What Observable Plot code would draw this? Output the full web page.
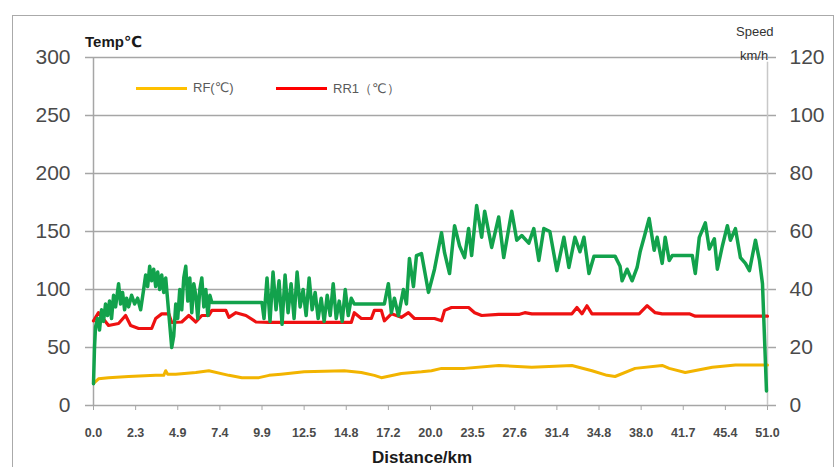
<!DOCTYPE html>
<html>
<head>
<meta charset="utf-8">
<script src="https://cdn.jsdelivr.net/npm/d3@7"></script>
<script src="https://cdn.jsdelivr.net/npm/@observablehq/plot@0.6"></script>
<style>
  html, body { margin: 0; padding: 0; background: #fff; }
  #wrap { position: relative; width: 837px; height: 467px; overflow: hidden; font-family: "Liberation Sans", "DejaVu Sans", sans-serif; }
  #frame { position: absolute; left: 12px; top: 15px; width: 822px; height: 470px; border: 1px solid #aaa; box-sizing: border-box; }
  #chart { position: absolute; left: 0; top: 0; }
  .lbl { position: absolute; white-space: nowrap; color: #1a1a1a; }
  .leg { position: absolute; white-space: nowrap; font-size: 13px; color: #595959; }
  .sw { position: absolute; height: 2.5px; }
</style>
</head>
<body>
<div id="wrap">
  <div id="frame"></div>
  <div id="chart"></div>
  <div class="lbl" style="left:85px; top:33px; font-size:15px; font-weight:bold;">Temp℃</div>
  <div class="lbl" style="left:736px; top:24px; font-size:13px; color:#333;">Speed</div>
  <div class="lbl" style="left:740px; top:48px; font-size:13px; color:#333;">km/h</div>
  <div class="lbl" style="left:372px; top:448px; font-size:17px; font-weight:bold;">Distance/km</div>
  <div class="sw" style="left:136px; top:87px; width:51px; background:#ffc000;"></div>
  <div class="leg" style="left:193px; top:80px;">RF(℃)</div>
  <div class="sw" style="left:276px; top:87px; width:51px; background:#ff0000;"></div>
  <div class="leg" style="left:333px; top:80px;">RR1（℃）</div>
</div>
<script>
// Category axis labels (Distance/km), one label every 42 samples
const distanceLabels = ["0.0","2.3","4.9","7.4","9.9","12.5","14.8","17.2","20.0","23.5","27.6","31.4","34.8","38.0","41.7","45.4","51.0"];
const samplesPerLabel = 42;
const tempTicks = [0, 50, 100, 150, 200, 250, 300];
const tempMax = 300;
const speedMax = 120;

// [sample index, value]
const rfTemp = [[0,19],[5,23],[15,24],[35,25],[62,26],[70,26],[72,30],[74,27],[82,27],[102,28.5],[115,30],[135,26],[148,24],[165,24],[175,26],[187,27],[210,29],[250,30],[267,28.5],[280,26],[287,24],[307,27.6],[327,29],[337,30],[347,32],[370,32],[404,34.5],[437,33],[477,34.5],[497,30],[512,26],[520,25],[540,32],[567,34.5],[574,32],[590,28.5],[617,33],[640,35],[672,35]];

const rr1Temp = [[0,73],[5,80],[15,69],[25,70.7],[32,77.6],[37,69],[45,66.4],[58,66.4],[62,75],[68,79],[75,79],[78,71.6],[88,72],[95,77.6],[102,72],[108,77.6],[115,77.6],[118,82],[132,82],[135,76],[142,80],[152,77.6],[162,72],[175,71.6],[257,71.6],[260,80],[267,75],[277,75],[280,82],[287,82],[290,73],[297,79],[307,76],[314,80],[320,75],[340,75],[347,73],[350,82],[357,84.5],[374,84.5],[380,80],[387,77.6],[404,78.5],[424,78.5],[430,80],[437,79],[477,79],[482,84.5],[487,79],[492,86],[497,79],[544,79],[552,86],[560,80],[567,79],[594,79],[600,77],[672,77]];

const speed = [[0,7.5],[1,20],[2,27],[4,30],[6,26],[8,33],[10,29],[12,35],[14,31],[16,36],[18,30],[20,38],[22,34],[25,42],[27,35],[29,39],[31,33],[33,37],[35,34],[38,38],[41,35],[44,37],[47,33],[50,40],[52,45],[54,41],[56,48],[58,43],[60,47],[62,41],[64,46],[66,40],[68,45],[70,39],[72,44],[74,36],[76,28],[78,20],[80,24],[82,35],[84,30],[86,40],[88,33],[90,44],[92,48],[94,36],[96,44],[98,32],[100,42],[102,38],[104,30],[106,40],[108,44],[110,34],[112,40],[114,31],[116,38],[118,35.5],[168,35.5],
[170,30],[173,44],[176,29],[179,46],[182,33],[185,43],[188,28],[191,45],[194,32],[197,42],[200,30],[203,46],[206,34],[209,40],[212,31],[215,44],[218,33],[221,39],[224,30],[227,37],[230,29],[233,38],[236,31],[239,42],[242,30],[245,36],[248,29],[251,40],[254,31],[257,37],[260,35],[290,35],
[294,42],[297,32],[300,37],[304,31],[309,40],[312,35],[315,50.7],[319,41],[322,51.7],[327,52.4],[334,39],[340,47],[347,59.6],[350,52.7],[355,45.5],[360,62],[365,55],[370,51],[374,61],[377,51.7],[382,69],
[387,58],[390,67],[397,54.5],[404,65],[409,51],[417,67],[422,57],[427,58.6],[434,56],[439,61],[444,50],[449,61],[455,60],[462,46.5],[469,58],[474,47.6],[480,58],[485,53],[489,58],[494,45.5],[499,51.5],[520,51.5],
[525,48],[527,43],[532,47],[537,43],[542,47.6],[545,53],[549,58],[554,64.5],[559,53.5],[562,58],[567,49],[570,58],[574,50],[577,51.7],[597,51.7],[600,45.5],[604,58],[610,63],[614,54],[619,57.5],[622,47],[627,55],[632,62],[635,57],[640,61],[645,51],[650,49],[654,46.5],[660,57],[664,50],[667,42],[671,5]];

const k = tempMax / speedMax;
const labelPos = distanceLabels.map((_, i) => i * samplesPerLabel);
const grid = "#a6a6a6";

const chart = Plot.plot({
  width: 837,
  height: 467,
  marginLeft: 93,
  marginRight: 70,
  marginTop: 57,
  marginBottom: 62,
  style: { fontFamily: "Liberation Sans, DejaVu Sans, sans-serif", background: "transparent", color: "#4a4a4a" },
  x: { domain: [0, 672] },
  y: { domain: [0, tempMax] },
  marks: [
    Plot.ruleY(tempTicks.slice(1), { stroke: grid, strokeWidth: 1.5 }),
    Plot.axisY(tempTicks, { anchor: "left", tickSize: 8, tickPadding: 15, stroke: grid, strokeWidth: 1.5, fontSize: 21, label: null }),
    Plot.axisY(tempTicks, { anchor: "right", tickSize: 8, tickPadding: 14, stroke: grid, strokeWidth: 1.5, fontSize: 21, tickFormat: d => d / k, label: null }),
    Plot.ruleX([0], { stroke: grid, strokeWidth: 1.5 }),
    Plot.ruleX([672], { y1: 0, y2: 296, stroke: "#c8c8c8", strokeWidth: 1.5 }),
    Plot.ruleY([0], { stroke: grid, strokeWidth: 1.5 }),
    Plot.axisX(labelPos, { anchor: "bottom", tickSize: 5, tickPadding: 18, stroke: grid, fontSize: 12.5, fontWeight: "bold", tickFormat: (d, i) => distanceLabels[i], label: null }),
    Plot.line(rfTemp, { x: d => d[0], y: d => d[1], stroke: "#f2b400", strokeWidth: 3 }),
    Plot.line(rr1Temp, { x: d => d[0], y: d => d[1], stroke: "#ee1111", strokeWidth: 3.2 }),
    Plot.line(speed, { x: d => d[0], y: d => d[1] * k, stroke: "#12a24c", strokeWidth: 3.5, strokeLinejoin: "round" })
  ]
});
document.getElementById("chart").appendChild(chart);
</script>
</body>
</html>
